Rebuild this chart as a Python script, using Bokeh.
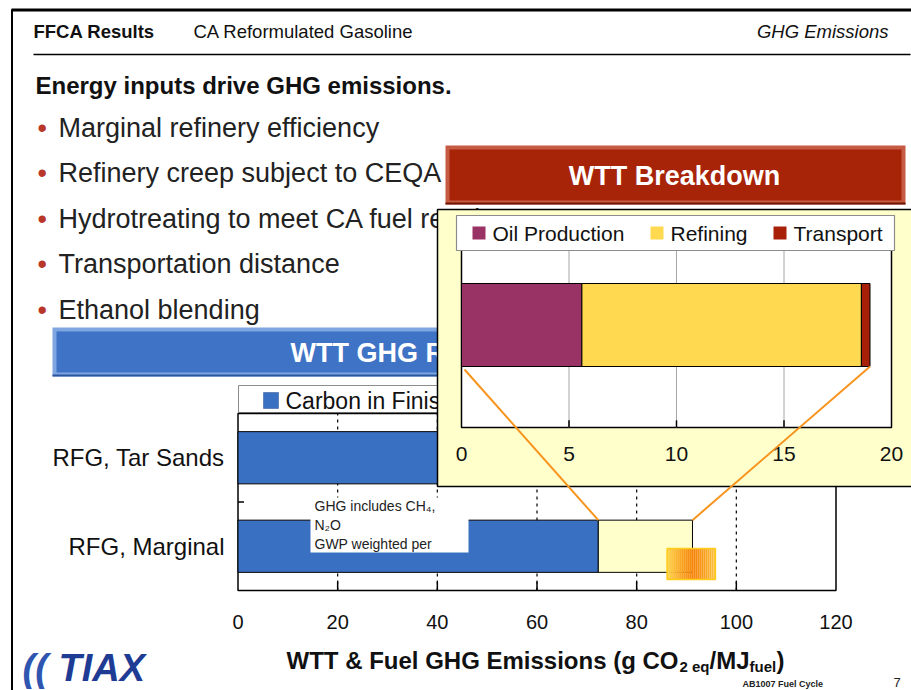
import numpy as np
from bokeh.plotting import figure
from bokeh.models import Range1d
from bokeh.embed import file_html
from bokeh.resources import INLINE
from bokeh.core.properties import value

FONT = "Liberation Sans"

# ---------------- data ----------------
header_left = "FFCA Results"
header_mid = "CA Reformulated Gasoline"
header_right = "GHG Emissions"
headline = "Energy inputs drive GHG emissions."
bullets = [
    "Marginal refinery efficiency",
    "Refinery creep subject to CEQA",
    "Hydrotreating to meet CA fuel requirements",
    "Transportation distance",
    "Ethanol blending",
]
main_title = "WTT GHG Results"
categories = ["RFG, Marginal", "RFG, Tar Sands"]
carbon_in_fuel = [72.3, 72.3]
wtt_emissions = [18.9, 31.0]
marginal_range = [86.1, 95.8]
main_series = ["Carbon in Finished Fuel", "WTT"]
main_ticks = [0, 20, 40, 60, 80, 100, 120]
main_tick_labels = ["0", "20", "40", "60", "80", "100", "120"]
axis_title_parts = ["WTT & Fuel GHG Emissions (g CO", "2 eq", "/MJ", "fuel", ")"]
note_lines = ["GHG includes CH\u2084,", "N\u2082O", "GWP weighted per"]

inset_title = "WTT Breakdown"
wtt_stages = ["Oil Production", "Refining", "Transport"]
wtt_values = [5.6, 13.0, 0.4]
wtt_ticks = [0, 5, 10, 15, 20]
wtt_tick_labels = ["0", "5", "10", "15", "20"]

footer = "AB1007 Fuel Cycle"
page_no = "7"

# ---------------- styles ----------------
BLUE = "#3A70C2"
PALE = "#FFFFCC"
STAGE_COLORS = ["#993366", "#FFD94F", "#A82008"]
ORANGE = "#F7941D"

W, H = 911, 690
OX, OY = 0, 0

p = figure(width=W, height=H, x_range=Range1d(OX, OX + W), y_range=Range1d(OY + H, OY),
           x_axis_type=None, y_axis_type=None, min_border=0, toolbar_location=None,
           output_backend="svg", outline_line_color=None, background_fill_color="white",
           border_fill_color="white")

# axis mappings (pixel anchors of the two charts)
MX0, MX1, MV1 = 237.5, 835.5, 120.0      # main x: 0 -> 237.5, 120 -> 835.5
MY0, MY1, MYV1 = 590.0, 413.0, 2.0       # main y: 0 -> 590, 2 -> 413
WX0, WX1, WV1 = 461.0, 891.0, 20.0       # inset x
WY0, WY1, WYV1 = 427.0, 222.0, 1.0       # inset y


def lin_range(p0, p1, v1, plo, phi):
    k = v1 / (p1 - p0)
    return Range1d(start=(plo - p0) * k, end=(phi - p0) * k)


p.extra_x_ranges = {"main": lin_range(MX0, MX1, MV1, OX, OX + W),
                    "wtt": lin_range(WX0, WX1, WV1, OX, OX + W)}
p.extra_y_ranges = {"main": lin_range(MY0, MY1, MYV1, OY + H, OY),
                    "wtt": lin_range(WY0, WY1, WYV1, OY + H, OY)}


def mx(v): return MX0 + v * (MX1 - MX0) / MV1
def my(v): return MY0 + v * (MY1 - MY0) / MYV1
def wx(v): return WX0 + v * (WX1 - WX0) / WV1
def wy(v): return WY0 + v * (WY1 - WY0) / WYV1


def txt(x, y, s, size, color="#000000", style="normal", align="left", baseline="middle",
        xr="default", yr="default", font=FONT):
    n = max(len(v) if isinstance(v, list) else 1 for v in (x, y, s))
    xs = list(x) if isinstance(x, list) else [x] * n
    ys = list(y) if isinstance(y, list) else [y] * n
    ss = list(s) if isinstance(s, list) else [s] * n
    p.text(x=xs, y=ys, text=ss, text_font=value(font), text_font_size=f"{size}px",
           text_color=color, text_font_style=style, text_align=align, text_baseline=baseline,
           x_range_name=xr, y_range_name=yr)


def box(l, r, t, b, fill, line=None, lw=1, xr="default", yr="default"):
    p.quad(left=[l], right=[r], top=[t], bottom=[b], fill_color=fill,
           line_color=line, line_width=lw, x_range_name=xr, y_range_name=yr)


# ---------------- slide frame & text ----------------
p.segment(x0=[11, 11.5], y0=[9.5, 9], x1=[911, 11.5], y1=[9.5, 690], line_color="black",
          line_width=[3, 2])
p.segment(x0=[33], y0=[54], x1=[910], y1=[54], line_color="black", line_width=1.5)
txt(33, 31, header_left, 18.5, "#111111", "bold")
txt(193, 31, header_mid, 18.5, "#111111")
txt(888, 31, header_right, 18.5, "#111111", "italic", align="right")
txt(35, 85, headline, 24, "#111111", "bold")
for i, b in enumerate(bullets):
    yb = 127 + i * 45.5
    txt(37, yb, "\u2022", 27, "#B8372A")
    txt(58, yb, b, 27, "#222222")

# blue banner
box(52, 760, 327, 376, "#7FA6E0")
box(56, 756, 331, 372, "#3F73C6")
p.segment(x0=[52], y0=[375], x1=[760], y1=[375], line_color="#2A559F", line_width=2)
txt(290, 352, main_title, 27, "white", "bold")

# main legend
box(238, 660, 385, 412, "white", "#8C8C8C", 1)
box(263, 278, 392, 408, BLUE, "#2A4F8F", 0.5)
txt(285, 400, main_series[0], 23, "#111111")
box(520, 535, 392, 408, PALE, "black", 0.5)
txt(542, 400, main_series[1], 23, "#111111")

# main plot area
cat_pos = [i + 0.5 for i in range(len(categories))]
box(0, MV1, MYV1, 0, "white", "black", 1.5, "main", "main")
grid_x = [t for t in main_ticks if 0 < t < MV1]
p.segment(x0=grid_x, y0=[0] * len(grid_x), x1=grid_x, y1=[MYV1] * len(grid_x),
          line_color="black", line_dash="3 4", line_width=1.2,
          x_range_name="main", y_range_name="main")
p.segment(x0=grid_x, y0=[0] * len(grid_x), x1=grid_x, y1=[0.1] * len(grid_x),
          line_color="black", line_width=1.5, x_range_name="main", y_range_name="main")
p.segment(x0=[0], y0=[1], x1=[1.2], y1=[1], line_color="black", line_width=1.5,
          x_range_name="main", y_range_name="main")
wtt_right = [c + w for c, w in zip(carbon_in_fuel, wtt_emissions)]
p.hbar(y=cat_pos, left=0, right=carbon_in_fuel, height=0.59, fill_color=BLUE,
       line_color="black", line_width=1, x_range_name="main", y_range_name="main")
p.hbar(y=cat_pos, left=carbon_in_fuel, right=wtt_right, height=0.59, fill_color=PALE,
       line_color="black", line_width=1, x_range_name="main", y_range_name="main")

# note box
box(310, 468, 497, 552, "white")
for j, line in enumerate(note_lines):
    txt(314, [505.5, 524.5, 543.5][j], line, 14, "#222222")

# range marker (gradient) on the marginal bar
n = 24
edges = np.linspace(marginal_range[0], marginal_range[1], n + 1)
c_edge = np.array([255, 214, 80])
c_mid = np.array([246, 134, 12])
cols = []
for k in range(n):
    t = abs((k + 0.5) / n - 0.55) / 0.55
    c = c_mid + (c_edge - c_mid) * min(t, 1) ** 1.2
    cols.append("#%02x%02x%02x" % tuple(int(v) for v in c))
gy_top = cat_pos[0] - 0.025
gy_bot = cat_pos[0] - 0.376
p.quad(left=edges[:-1], right=edges[1:], top=[gy_top] * n, bottom=[gy_bot] * n,
       fill_color=cols, line_color=None, x_range_name="main", y_range_name="main")
p.quad(left=[marginal_range[0]], right=[marginal_range[1]], top=[gy_top], bottom=[gy_bot],
       fill_color=None, line_color="#FFCC1A", line_width=1.5,
       x_range_name="main", y_range_name="main")

# category and tick labels
txt(224, cat_pos, categories, 24, "#111111", align="right", yr="main")
txt(main_ticks, 621, main_tick_labels, 20, "#111111", align="center", xr="main")

# axis title with subscripts
txt(286, 660, axis_title_parts[0], 24, "#111111", "bold")
txt(679, 666, axis_title_parts[1], 15, "#111111", "bold")
txt(709, 660, axis_title_parts[2], 24, "#111111", "bold")
txt(749, 666, axis_title_parts[3], 15, "#111111", "bold")
txt(776, 660, axis_title_parts[4], 24, "#111111", "bold")

# logo & footer
txt(22, 667, "((", 38, "#2E55B0", "bold italic")
txt(58, 667, "TIAX", 38, "#1F3C95", "bold italic")
txt(742, 683, footer, 9, "#222222", "bold")
txt(893, 682, page_no, 13, "#222222")

# ---------------- inset ----------------
box(445, 905, 145, 204, "#C65B43")
box(449, 901, 149, 200, "#A82409")
p.segment(x0=[445], y0=[203], x1=[905], y1=[203], line_color="#6E1505", line_width=2)
txt(674, 175.5, inset_title, 27, "white", "bold", align="center")

box(437, 915, 209, 486, PALE, "black", 1.5)
box(0, WV1, WYV1, 0, "white", "black", 1.5, "wtt", "wtt")
gx = [t for t in wtt_ticks if 0 < t < WV1]
p.segment(x0=gx, y0=[0] * len(gx), x1=gx, y1=[WYV1] * len(gx), line_color="#A6A6A6",
          line_width=1, x_range_name="wtt", y_range_name="wtt")
p.segment(x0=gx, y0=[0] * len(gx), x1=gx, y1=[0.035] * len(gx), line_color="black",
          line_width=1.5, x_range_name="wtt", y_range_name="wtt")
lefts = list(np.cumsum([0] + wtt_values[:-1]))
rights = list(np.cumsum(wtt_values))
p.hbar(y=[0.5] * len(wtt_values), left=lefts, right=rights, height=0.405,
       fill_color=STAGE_COLORS, line_color="black", line_width=1,
       x_range_name="wtt", y_range_name="wtt")
txt(wtt_ticks, 453, wtt_tick_labels, 21, "#111111", align="center", xr="wtt")

# inset legend
box(456, 894, 215, 250, "white", "#8C8C8C", 1.2)
leg_x = [472, 650, 773]
for lx, name, col in zip(leg_x, wtt_stages, STAGE_COLORS):
    box(lx, lx + 13, 226, 239, col, None)
    txt(lx + 20, 233, name, 21, "#111111")

# connectors
bar_bottom = 0.5 - 0.405 / 2
bar_top_main = cat_pos[0] + 0.59 / 2
p.segment(x0=[wx(0) + 3, wx(sum(wtt_values))], y0=[wy(bar_bottom) + 3, wy(bar_bottom)],
          x1=[mx(carbon_in_fuel[0]), mx(wtt_right[0])], y1=[my(bar_top_main)] * 2,
          line_color=ORANGE, line_width=2)

open("out.html", "w").write(file_html(p, INLINE))
